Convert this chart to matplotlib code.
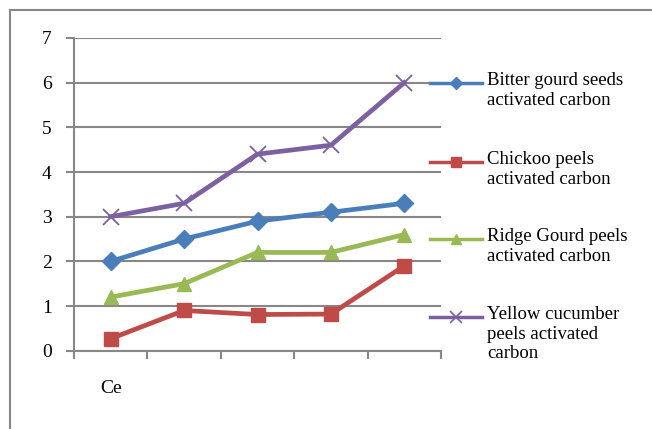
import matplotlib
matplotlib.use("Agg")
import matplotlib.pyplot as plt
from matplotlib.lines import Line2D

plt.rcParams['font.family'] = ['Liberation Serif', 'DejaVu Serif']

# Data
categories = ["Ce", "", "", "", ""]
bitter_gourd = [2.0, 2.5, 2.9, 3.1, 3.3]
chickoo = [0.27, 0.9, 0.81, 0.82, 1.9]
ridge_gourd = [1.2, 1.5, 2.2, 2.2, 2.6]
yellow_cucumber = [3.0, 3.3, 4.4, 4.6, 6.0]
series_labels = [
    "Bitter gourd seeds\nactivated carbon",
    "Chickoo peels\nactivated carbon",
    "Ridge Gourd peels\nactivated carbon",
    "Yellow cucumber\npeels activated\ncarbon",
]
y_ticks = [0, 1, 2, 3, 4, 5, 6, 7]

colors = ["#4A7EBB", "#BE4B48", "#98B954", "#7D60A0"]
markers = ["D", "s", "^", "x"]
msizes = [9.5, 10.5, 10.5, 11]
legend_msizes = [6, 7, 7, 8]
grid_col = "#878787"

W, H = 652, 429
fig = plt.figure(figsize=(W / 100, H / 100), dpi=100)
ax = fig.add_axes([74 / W, 1 - 350.7 / H, (441 - 74) / W, (350.7 - 38) / H])

xs = [i + 0.5 for i in range(len(categories))]
all_series = [bitter_gourd, chickoo, ridge_gourd, yellow_cucumber]
for vals, c, m, ms in zip(all_series, colors, markers, msizes):
    kw = dict(color=c, lw=3.4, marker=m, markersize=ms, zorder=3,
              solid_joinstyle="round")
    if m == "x":
        kw["markeredgewidth"] = 1.3
    ax.plot(xs, vals, **kw)

ax.set_xlim(0, len(categories))
ax.set_ylim(0, 7)
ax.set_yticks(y_ticks)
ax.set_yticklabels([str(v) for v in y_ticks], fontsize=14)
ax.set_xticks(range(len(categories) + 1))
ax.set_xticklabels([])
ax.yaxis.grid(True, color=grid_col, lw=1.5)
ax.set_axisbelow(True)
for s in ["top", "right"]:
    ax.spines[s].set_visible(False)
for s in ["left", "bottom"]:
    ax.spines[s].set_color(grid_col)
    ax.spines[s].set_linewidth(1.5)
ax.tick_params(axis="y", direction="out", length=6, width=1.5, color=grid_col, pad=10)
ax.tick_params(axis="x", direction="out", length=6, width=1.5, color=grid_col)

# Category label
ax.text(xs[0], -0.84, categories[0], ha="center", va="center", fontsize=14,
        transform=ax.transData, clip_on=False)

# Legend entries
entry_y = [83, 162, 239, 317]
for lab, c, m, ms, y in zip(series_labels, colors, markers, legend_msizes, entry_y):
    fy = 1 - y / H
    kw = dict(color=c, lw=2.5, marker=m, markersize=ms, markevery=[1])
    if m == "x":
        kw["markeredgewidth"] = 1.2
    fig.add_artist(Line2D([430 / W, 456 / W, 482 / W], [fy, fy, fy],
                          transform=fig.transFigure, **kw))
    fig.text(487 / W, fy + 11 / H, lab, ha="left", va="top", fontsize=13.5,
             linespacing=1.2)

# Chart frame
fig.add_artist(Line2D([10 / W, 1.0], [1 - 10 / H, 1 - 10 / H], color=grid_col, lw=1.5,
                      transform=fig.transFigure))
fig.add_artist(Line2D([10 / W, 10 / W], [0, 1 - 10 / H], color=grid_col, lw=1.5,
                      transform=fig.transFigure))

fig.savefig("out.png", dpi=100)
